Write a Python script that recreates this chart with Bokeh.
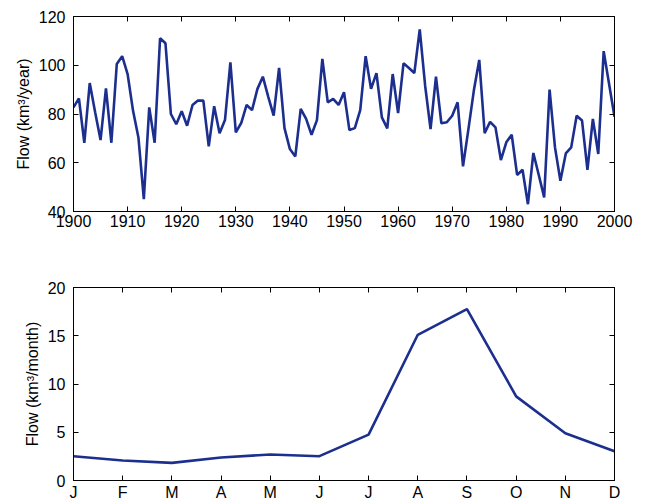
from bokeh.plotting import figure
from bokeh.layouts import column
from bokeh.models import LinearAxis, Range1d, FixedTicker
from bokeh.embed import file_html
from bokeh.resources import INLINE

years = list(range(1900, 2001))
annual_flow = [
    82.7, 86.4, 68.2, 92.7, 80.7, 69.3, 90.5, 68.2, 100.5, 103.7,
    96.4, 81.4, 70.4, 45.1, 82.7, 68.2, 111.1, 109.0, 80.0, 75.8,
    81.1, 75.2, 83.7, 85.5, 85.5, 66.7, 83.2, 72.1, 77.5, 101.2,
    72.5, 76.3, 83.7, 81.6, 90.3, 95.3, 87.0, 79.3, 98.9, 74.2,
    65.6, 62.6, 82.1, 78.0, 71.5, 77.5, 102.6, 84.8, 86.2, 83.7,
    88.9, 73.4, 74.2, 81.6, 103.7, 90.3, 96.8, 78.6, 74.1, 96.4,
    80.4, 100.8, 98.9, 96.8, 114.7, 91.6, 73.8, 95.3, 76.2, 76.6,
    79.3, 84.8, 58.5, 73.8, 89.6, 102.2, 72.1, 76.8, 74.5, 61.1,
    68.4, 71.5, 55.0, 57.1, 43.0, 64.0, 55.0, 45.8, 90.0, 66.3,
    52.6, 63.8, 66.3, 79.3, 77.3, 57.1, 78.0, 63.6, 105.8, 92.3,
    78.9,
]
year_ticks = list(range(1900, 2001, 10))
annual_yticks = [40, 60, 80, 100, 120]

months = ["J", "F", "M", "A", "M", "J", "J", "A", "S", "O", "N", "D"]
month_index = list(range(1, 13))
monthly_flow = [2.52, 2.07, 1.83, 2.38, 2.69, 2.52, 4.76, 15.1, 17.76, 8.72, 4.9, 3.03]
monthly_yticks = [0, 5, 10, 15, 20]

FONT = "Liberation Sans"
LINE_COLOR = "#1c2f8e"
FS = "16px"


def style(p, xticks, yticks, xoverrides=None):
    p.outline_line_color = "black"
    p.outline_line_width = 1
    p.xgrid.visible = False
    p.ygrid.visible = False
    p.background_fill_color = "white"
    p.border_fill_color = "white"
    for ax in p.xaxis + p.yaxis:
        ax.major_tick_in = 5
        ax.major_tick_out = 0
        ax.minor_tick_in = 0
        ax.minor_tick_out = 0
        ax.axis_line_color = "black"
        ax.major_tick_line_color = "black"
        ax.major_label_text_font = FONT
        ax.major_label_text_font_size = FS
        ax.major_label_text_color = "black"
        ax.axis_label_text_font = FONT
        ax.axis_label_text_font_size = FS
        ax.axis_label_text_font_style = "normal"
        ax.axis_label_text_color = "black"
    p.xaxis[0].ticker = FixedTicker(ticks=xticks)
    p.yaxis[0].ticker = FixedTicker(ticks=yticks)
    p.xaxis[0].major_label_standoff = 3
    p.yaxis[0].major_label_standoff = 8
    p.yaxis[0].axis_label_standoff = 4
    if xoverrides:
        p.xaxis[0].major_label_overrides = xoverrides
    top = LinearAxis(ticker=FixedTicker(ticks=xticks), major_label_text_font_size="0px",
                     major_tick_in=5, major_tick_out=0, minor_tick_in=0, minor_tick_out=0,
                     axis_line_color="black", major_label_text_alpha=0,
                     major_label_standoff=0)
    right = LinearAxis(ticker=FixedTicker(ticks=yticks), major_label_text_font_size="0px",
                       major_tick_in=5, major_tick_out=0, minor_tick_in=0, minor_tick_out=0,
                       axis_line_color="black", major_label_text_alpha=0,
                       major_label_standoff=0)
    p.add_layout(top, "above")
    p.add_layout(right, "right")


# Top: annual flow
p1 = figure(width=646, height=250, output_backend="svg", toolbar_location=None,
            x_range=Range1d(1900, 2000), y_range=Range1d(40, 120),
            min_border_left=73, min_border_right=32, min_border_top=16, min_border_bottom=39)
p1.line(years, annual_flow, line_color=LINE_COLOR, line_width=2.6)
p1.yaxis[0].axis_label = "Flow (km³/year)"
style(p1, year_ticks, annual_yticks)
p1.frame_width = 541
p1.frame_height = 195

# Bottom: monthly flow
p2 = figure(width=646, height=248, output_backend="svg", toolbar_location=None,
            x_range=Range1d(1, 12), y_range=Range1d(0, 20),
            min_border_left=73, min_border_right=32, min_border_top=37, min_border_bottom=18)
p2.line(month_index, monthly_flow, line_color=LINE_COLOR, line_width=2.6)
p2.yaxis[0].axis_label = "Flow (km³/month)"
style(p2, month_index, monthly_yticks, xoverrides={i + 1: m for i, m in enumerate(months)})
p2.frame_width = 541
p2.frame_height = 193

layout = column(p1, p2, spacing=0)
open("out.html", "w").write(file_html(layout, INLINE))
